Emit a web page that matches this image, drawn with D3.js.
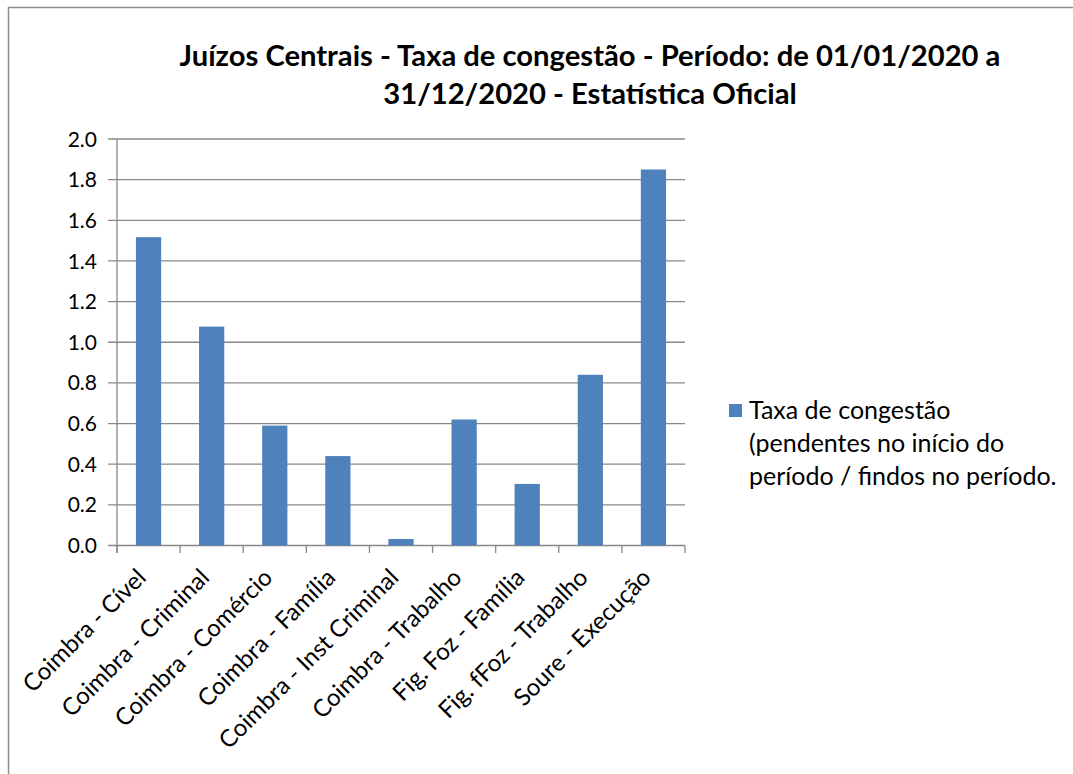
<!DOCTYPE html>
<html><head><meta charset="utf-8">
<script src="https://cdn.jsdelivr.net/npm/d3@7"></script>
<style>body{margin:0;background:#fff}svg{display:block}text{font-family:Lato,"Open Sans",sans-serif;fill:#000}</style>
</head><body>
<script>
const categories = ["Coimbra - Cível","Coimbra - Criminal","Coimbra - Comércio","Coimbra - Família","Coimbra - Inst Criminal","Coimbra - Trabalho","Fig. Foz - Família","Fig. fFoz - Trabalho","Soure - Execução"];
const values = [1.517, 1.077, 0.59, 0.44, 0.032, 0.62, 0.303, 0.84, 1.85];
const yTicks = [0,0.2,0.4,0.6,0.8,1.0,1.2,1.4,1.6,1.8,2.0];
const titleLines = ["Juízos Centrais - Taxa de congestão - Período: de 01/01/2020 a","31/12/2020 - Estatística Oficial"];
const legendLines = ["Taxa de congestão","(pendentes no início do","período / findos no período."];

const W=1073,H=774;
const svg=d3.select("body").append("svg").attr("width",W).attr("height",H);
svg.append("path").attr("d","M8.5,774V7.5H1073").attr("fill","none").attr("stroke","#8c8c8c").attr("stroke-width",1.5);

const x=d3.scaleBand().domain(categories).range([117,685]).padding(0);
const y=d3.scaleLinear().domain([0,2]).range([545.5,139]);

svg.append("g").selectAll("line").data(yTicks).join("line")
  .attr("x1",108).attr("x2",685).attr("y1",d=>y(d)).attr("y2",d=>y(d))
  .attr("stroke","#888").attr("stroke-width",1.3);

const bw=x.bandwidth()*0.4;
svg.append("g").selectAll("rect").data(values).join("rect")
  .attr("x",(d,i)=>x(categories[i])+x.bandwidth()/2-bw/2)
  .attr("width",bw)
  .attr("y",d=>y(d)).attr("height",d=>y(0)-y(d))
  .attr("fill","#4F81BD");

svg.append("line").attr("x1",117).attr("x2",117).attr("y1",139).attr("y2",553).attr("stroke","#888").attr("stroke-width",1.3);
const xt=categories.map(c=>x(c)).concat([685]);
svg.append("g").selectAll("line").data(xt).join("line")
  .attr("x1",d=>d).attr("x2",d=>d).attr("y1",545.5).attr("y2",553)
  .attr("stroke","#888").attr("stroke-width",1.3);

svg.append("g").selectAll("text").data(yTicks).join("text")
  .attr("x",97).attr("y",d=>y(d)).attr("dy","0.36em").attr("text-anchor","end")
  .style("font-size","21px").text(d=>d.toFixed(1));

svg.append("g").selectAll("text").data(categories).join("text")
  .attr("text-anchor","end")
  .attr("transform",d=>`translate(${x(d)+x.bandwidth()/2-1},${579}) rotate(-45)`)
  .style("font-size","24px").text(d=>d);

svg.append("g").selectAll("text").data(titleLines).join("text")
  .attr("x",590).attr("y",(d,i)=>66+i*38).attr("text-anchor","middle")
  .style("font-size","29.2px").style("font-weight","bold").text(d=>d);

svg.append("rect").attr("x",729).attr("y",404).attr("width",13).attr("height",13).attr("fill","#4F81BD");
svg.append("g").selectAll("text").data(legendLines).join("text")
  .attr("x",749).attr("y",(d,i)=>419+i*33)
  .style("font-size","25px").text(d=>d);
</script>
</body></html>
